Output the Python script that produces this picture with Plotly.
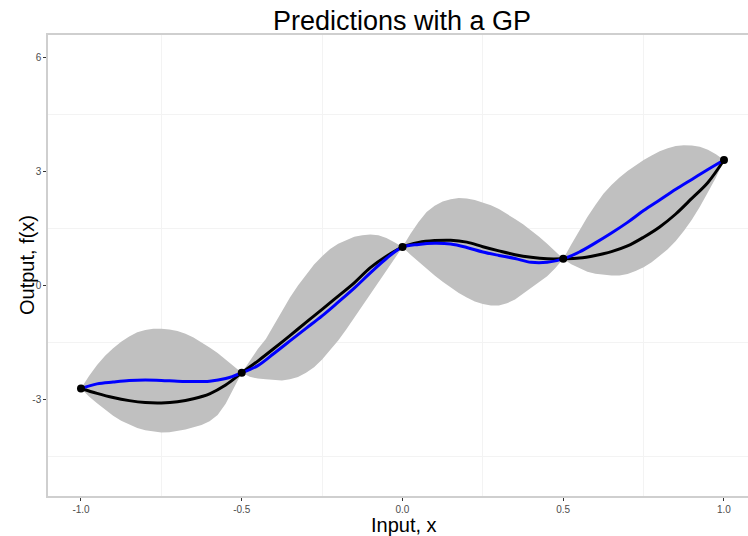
import plotly.graph_objects as go

# Observed data points
obs_x = [-1.0, -0.5, 0.0, 0.5, 1.0]
obs_y = [-2.72, -2.31, 1.00, 0.69, 3.29]

# Grid of inputs for the curves
grid_x = [-1.00, -0.95, -0.90, -0.85, -0.80, -0.75, -0.70, -0.65, -0.60, -0.55,
          -0.50, -0.45, -0.40, -0.35, -0.30, -0.25, -0.20, -0.15, -0.10, -0.05,
          0.00, 0.05, 0.10, 0.15, 0.20, 0.25, 0.30, 0.35, 0.40, 0.45,
          0.50, 0.55, 0.60, 0.65, 0.70, 0.75, 0.80, 0.85, 0.90, 0.95, 1.00]

# True function (black)
true_f = [-2.72, -2.85, -2.96, -3.04, -3.09, -3.10, -3.07, -2.99, -2.86, -2.63,
          -2.31, -2.00, -1.67, -1.33, -0.98, -0.64, -0.29, 0.06, 0.46, 0.76,
          1.00, 1.12, 1.17, 1.18, 1.13, 1.01, 0.90, 0.80, 0.73, 0.69,
          0.69, 0.71, 0.78, 0.88, 1.03, 1.26, 1.53, 1.87, 2.28, 2.70, 3.29]

# GP predictive mean (blue)
gp_mean = [-2.72, -2.60, -2.55, -2.51, -2.50, -2.51, -2.53, -2.54, -2.53, -2.46,
           -2.31, -2.12, -1.80, -1.47, -1.14, -0.81, -0.45, -0.08, 0.32, 0.70,
           1.00, 1.07, 1.10, 1.08, 0.99, 0.87, 0.78, 0.70, 0.60, 0.60,
           0.69, 0.87, 1.11, 1.37, 1.65, 1.96, 2.24, 2.52, 2.78, 3.04, 3.29]

# Finer grid for the predictive band
band_x = [-1.000, -0.975, -0.950, -0.925, -0.900, -0.875, -0.850, -0.825, -0.800, -0.775,
          -0.750, -0.725, -0.700, -0.675, -0.650, -0.625, -0.600, -0.575, -0.550, -0.525,
          -0.500, -0.475, -0.450, -0.425, -0.400, -0.375, -0.350, -0.325, -0.300, -0.275,
          -0.250, -0.225, -0.200, -0.175, -0.150, -0.125, -0.100, -0.075, -0.050, -0.025,
          0.000, 0.025, 0.050, 0.075, 0.100, 0.125, 0.150, 0.175, 0.200, 0.225,
          0.250, 0.275, 0.300, 0.325, 0.350, 0.375, 0.400, 0.425, 0.450, 0.475,
          0.500, 0.525, 0.550, 0.575, 0.600, 0.625, 0.650, 0.675, 0.700, 0.725,
          0.750, 0.775, 0.800, 0.825, 0.850, 0.875, 0.900, 0.925, 0.950, 0.975, 1.000]

band_upper = [-2.72, -2.39, -2.10, -1.86, -1.66, -1.49, -1.35, -1.24, -1.18, -1.15,
              -1.15, -1.17, -1.21, -1.28, -1.38, -1.50, -1.64, -1.79, -1.96, -2.14,
              -2.31, -2.00, -1.68, -1.42, -1.06, -0.68, -0.33, -0.01, 0.28, 0.54,
              0.76, 0.95, 1.09, 1.19, 1.27, 1.31, 1.33, 1.31, 1.24, 1.13,
              1.00, 1.35, 1.66, 1.92, 2.09, 2.20, 2.26, 2.29, 2.28, 2.24,
              2.18, 2.10, 2.00, 1.88, 1.74, 1.60, 1.44, 1.27, 1.09, 0.90,
              0.69, 1.07, 1.44, 1.79, 2.11, 2.40, 2.63, 2.83, 3.00, 3.15,
              3.29, 3.41, 3.52, 3.60, 3.66, 3.68, 3.67, 3.64, 3.56, 3.44, 3.29]

band_lower = [-2.72, -2.93, -3.11, -3.28, -3.44, -3.57, -3.67, -3.76, -3.82, -3.86,
              -3.88, -3.87, -3.84, -3.80, -3.74, -3.68, -3.58, -3.42, -3.12, -2.70,
              -2.31, -2.41, -2.46, -2.48, -2.50, -2.51, -2.48, -2.42, -2.31, -2.16,
              -1.96, -1.72, -1.46, -1.17, -0.86, -0.55, -0.23, 0.07, 0.40, 0.71,
              1.00, 0.80, 0.61, 0.43, 0.25, 0.09, -0.06, -0.21, -0.33, -0.43,
              -0.50, -0.54, -0.54, -0.48, -0.38, -0.23, -0.08, 0.08, 0.23, 0.44,
              0.69, 0.55, 0.44, 0.35, 0.30, 0.27, 0.25, 0.25, 0.29, 0.37,
              0.47, 0.60, 0.76, 0.94, 1.16, 1.42, 1.72, 2.06, 2.44, 2.83, 3.29]

x_ticks = [-1.0, -0.5, 0.0, 0.5, 1.0]
y_ticks = [-3, 0, 3, 6]
x_minor = [-0.75, -0.25, 0.25, 0.75]
y_minor = [-4.5, -1.5, 1.5, 4.5]

fig = go.Figure()

fig.add_trace(go.Scatter(x=band_x, y=band_upper, mode="lines",
                         line=dict(width=0, color="rgba(0,0,0,0)"),
                         hoverinfo="skip", showlegend=False))
fig.add_trace(go.Scatter(x=band_x, y=band_lower, mode="lines",
                         line=dict(width=0, color="rgba(0,0,0,0)"),
                         fill="tonexty", fillcolor="#c0c0c0",
                         hoverinfo="skip", showlegend=False))
fig.add_trace(go.Scatter(x=grid_x, y=true_f, mode="lines",
                         line=dict(width=3, shape="spline", color="black"),
                         showlegend=False))
fig.add_trace(go.Scatter(x=grid_x, y=gp_mean, mode="lines",
                         line=dict(width=3, shape="spline", color="#0000ff"),
                         showlegend=False))
fig.add_trace(go.Scatter(x=obs_x, y=obs_y, mode="markers",
                         marker=dict(size=8, color="black"),
                         showlegend=False))

FONT = "Liberation Sans, Arial, sans-serif"
axis_font = dict(family=FONT, size=10, color="#4d4d4d")

fig.update_layout(
    width=748, height=536,
    margin=dict(l=48, r=0, t=35, b=40),
    paper_bgcolor="white", plot_bgcolor="white",
    font=dict(family=FONT),
    title=dict(text="Predictions with a GP", x=402/748, xref="container", xanchor="center",
               y=1 - 21/536, yref="container", yanchor="middle",
               font=dict(size=27, color="black")),
    xaxis=dict(range=[-1.1026, 1.0747], tickvals=x_ticks,
               ticktext=[f"{v:.1f}" for v in x_ticks],
               showgrid=False, zeroline=False, automargin=False,
               showline=True, linecolor="#cfcfcf", linewidth=1.5, mirror=True,
               ticks="outside", ticklen=3, tickcolor="#333333", tickwidth=1,
               tickfont=axis_font,
               minor=dict(tickvals=x_minor, showgrid=True,
                          gridcolor="#f3f3f3", gridwidth=1, ticks="")),
    yaxis=dict(range=[-5.55, 6.58], tickvals=y_ticks,
               ticktext=[str(v) for v in y_ticks],
               showgrid=False, zeroline=False, automargin=False,
               showline=True, linecolor="#cfcfcf", linewidth=1.5,
               ticks="outside", ticklen=3, tickcolor="#333333", tickwidth=1,
               tickfont=axis_font,
               minor=dict(tickvals=y_minor, showgrid=True,
                          gridcolor="#f3f3f3", gridwidth=1, ticks="")),
    annotations=[
        dict(text="Input, x", xref="paper", yref="paper",
             x=(404 - 48) / 700, y=(496 - 525) / 461,
             xanchor="center", yanchor="middle", showarrow=False,
             font=dict(family=FONT, size=20, color="black")),
        dict(text="Output, f(x)", xref="paper", yref="paper",
             x=(27 - 48) / 700, y=(496 - 265) / 461, textangle=-90,
             xanchor="center", yanchor="middle", showarrow=False,
             font=dict(family=FONT, size=20, color="black")),
    ],
)

fig.write_html("out.html", config={"displayModeBar": False},
               post_script="document.body.style.margin='0';document.body.style.padding='0';")
